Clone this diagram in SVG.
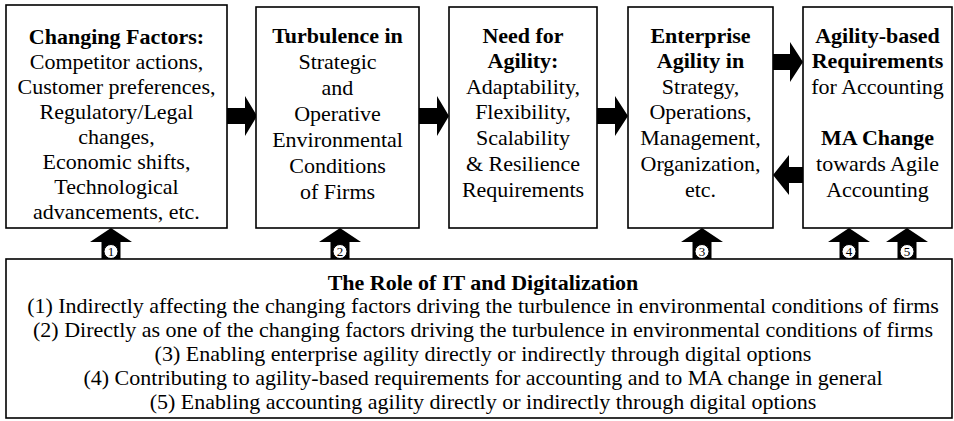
<svg xmlns="http://www.w3.org/2000/svg" width="954" height="421" viewBox="0 0 954 421">
<style>
.box{fill:#fff;stroke:#000;stroke-width:1.6}
.arr{fill:#000}
.circ{fill:#fff;stroke:#000;stroke-width:1}
</style>
<defs>
  <g id="uparrow">
    <polygon class="arr" points="0,0 21,14 9.5,14 9.5,31 -9.5,31 -9.5,14 -21,14"/>
    <circle class="circ" cx="0" cy="23.5" r="7"/>
  </g>
</defs>
<rect width="954" height="421" fill="#fff"/>
<g id="connectors" font-family="Liberation Serif, Times New Roman, serif" font-size="13" text-anchor="middle">
  <polygon class="arr" points="227,108 245,108 245,96 257,116 245,136 245,124 227,124"/>
  <polygon class="arr" points="419,108 437,108 437,96 449,116 437,136 437,124 419,124"/>
  <polygon class="arr" points="597,108 615,108 615,96 628,116 615,136 615,124 597,124"/>
  <polygon class="arr" points="773,54 790,54 790,42 803,62 790,82 790,70 773,70"/>
  <polygon class="arr" points="803,167 789,167 789,155 773,175 789,195 789,183 803,183"/>
  <g id="up1"><use href="#uparrow" x="111" y="228"/><text x="111" y="256">1</text></g>
  <g id="up2"><use href="#uparrow" x="340" y="228"/><text x="340" y="256">2</text></g>
  <g id="up3"><use href="#uparrow" x="702" y="228"/><text x="702" y="256">3</text></g>
  <g id="up4"><use href="#uparrow" x="849" y="228"/><text x="849" y="256">4</text></g>
  <g id="up5"><use href="#uparrow" x="907" y="228"/><text x="907" y="256">5</text></g>
</g>
<g id="node1" font-family="Liberation Serif, Times New Roman, serif" font-size="22" text-anchor="middle">
  <rect class="box" x="6" y="5" width="221" height="223"/>
  <text font-weight="bold" x="116.5" y="44">Changing Factors:</text>
  <text x="116.5" y="69">Competitor actions,</text>
  <text x="116.5" y="94">Customer preferences,</text>
  <text x="116.5" y="119">Regulatory/Legal</text>
  <text x="116.5" y="144">changes,</text>
  <text x="116.5" y="169">Economic shifts,</text>
  <text x="116.5" y="194">Technological</text>
  <text x="116.5" y="219">advancements, etc.</text>
</g>
<g id="node2" font-family="Liberation Serif, Times New Roman, serif" font-size="22" text-anchor="middle">
  <rect class="box" x="256" y="7" width="163" height="221"/>
  <text font-weight="bold" x="337.5" y="43">Turbulence in</text>
  <text x="337.5" y="69">Strategic</text>
  <text x="337.5" y="95">and</text>
  <text x="337.5" y="121">Operative</text>
  <text x="337.5" y="147">Environmental</text>
  <text x="337.5" y="173">Conditions</text>
  <text x="337.5" y="199">of Firms</text>
</g>
<g id="node3" font-family="Liberation Serif, Times New Roman, serif" font-size="22" text-anchor="middle">
  <rect class="box" x="449" y="7" width="148" height="221"/>
  <text font-weight="bold" x="523" y="43">Need for</text>
  <text font-weight="bold" x="523" y="68">Agility:</text>
  <text x="523" y="94">Adaptability,</text>
  <text x="523" y="119">Flexibility,</text>
  <text x="523" y="145">Scalability</text>
  <text x="523" y="171">&amp; Resilience</text>
  <text x="523" y="197">Requirements</text>
</g>
<g id="node4" font-family="Liberation Serif, Times New Roman, serif" font-size="22" text-anchor="middle">
  <rect class="box" x="628" y="7" width="145" height="221"/>
  <text font-weight="bold" x="700.5" y="43">Enterprise</text>
  <text font-weight="bold" x="700.5" y="68">Agility in</text>
  <text x="700.5" y="94">Strategy,</text>
  <text x="700.5" y="119">Operations,</text>
  <text x="700.5" y="145">Management,</text>
  <text x="700.5" y="171">Organization,</text>
  <text x="700.5" y="197">etc.</text>
</g>
<g id="node5" font-family="Liberation Serif, Times New Roman, serif" font-size="22" text-anchor="middle">
  <rect class="box" x="803" y="7" width="149" height="221"/>
  <text font-weight="bold" x="877.5" y="43">Agility-based</text>
  <text font-weight="bold" x="877.5" y="68">Requirements</text>
  <text x="877.5" y="94">for Accounting</text>
  <text font-weight="bold" x="877.5" y="145">MA Change</text>
  <text x="877.5" y="171">towards Agile</text>
  <text x="877.5" y="197">Accounting</text>
</g>
<g id="node6" font-family="Liberation Serif, Times New Roman, serif" font-size="22" text-anchor="middle">
  <rect class="box" x="6" y="259" width="946" height="159"/>
  <text font-weight="bold" x="483" y="290">The Role of IT and Digitalization</text>
  <text x="483" y="313">(1) Indirectly affecting the changing factors driving the turbulence in environmental conditions of firms</text>
  <text x="483" y="337">(2) Directly as one of the changing factors driving the turbulence in environmental conditions of firms</text>
  <text x="483" y="361">(3) Enabling enterprise agility directly or indirectly through digital options</text>
  <text x="483" y="385">(4) Contributing to agility-based requirements for accounting and to MA change in general</text>
  <text x="483" y="409">(5) Enabling accounting agility directly or indirectly through digital options</text>
</g>
</svg>
